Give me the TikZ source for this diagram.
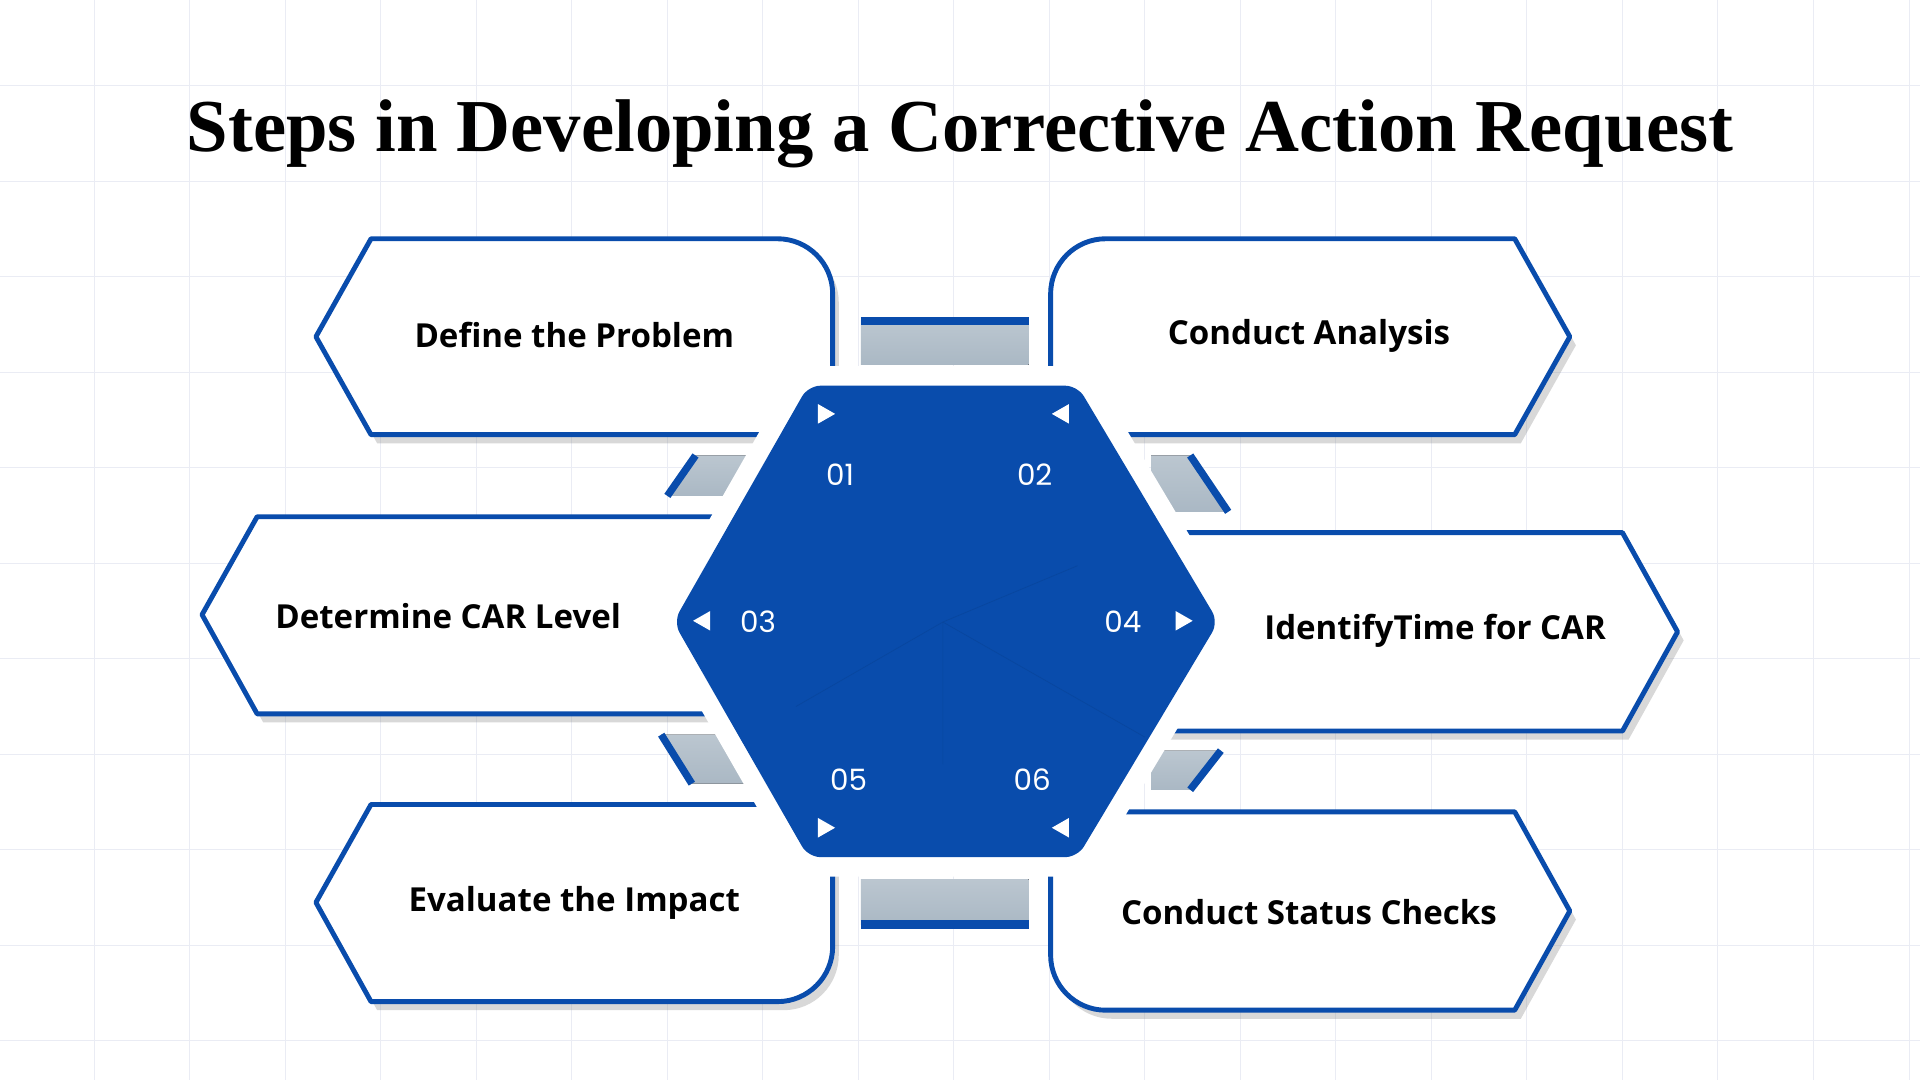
\documentclass[tikz,border=0pt]{standalone}
\usepackage{fontspec}
\setmainfont{Liberation Serif}
\newfontfamily\lblfont{Open Sans}
\newfontfamily\numfont{Poppins}
\usetikzlibrary{shadows,calc}
\definecolor{cblue}{RGB}{9,76,172}
\definecolor{bar}{RGB}{170,184,196}
\definecolor{gridc}{RGB}{234,236,244}
\tikzset{
 box/.style={draw=cblue,line width=4pt,fill=white,line join=round,drop shadow={opacity=0.3,shadow xshift=5pt,shadow yshift=-7pt}},
 lbl/.style={font=\lblfont\bfseries\fontsize{27}{31}\selectfont,text=black},
 num/.style={font=\numfont\fontsize{24}{28}\selectfont,text=white},
 barf/.style={top color=bar!80,bottom color=bar,draw=none},
 tri/.style={fill=white,draw=none}
}
\begin{document}
\begin{tikzpicture}[x=1pt,y=1pt]
\useasboundingbox (0,0) rectangle (1568,882);
\fill[white] (0,0) rectangle (1568,882);
\foreach \i in {0,...,20} \draw[gridc,line width=0.8pt] (\i*78-1,0) -- (\i*78-1,882);
\foreach \i in {0,...,12} \draw[gridc,line width=0.8pt] (0,882-\i*78+8) -- (1568,882-\i*78+8);
\node[font=\bfseries\fontsize{61}{66}\selectfont] (title) at (784,773) {Steps in Developing a Corrective Action Request};
% connector bars
\fill[barf] (703,584) rectangle (840,620);
\draw[cblue,line width=7pt] (703,620) -- (840,620);
\fill[barf] (703,127) rectangle (840,164);
\draw[cblue,line width=7pt] (703,127) -- (840,127);
\fill[barf] (545,477) -- (568,510) -- (620,510) -- (620,477) -- cycle;
\draw[cblue,line width=6pt] (545,477) -- (568,510);
\fill[barf] (540,282) -- (620,282) -- (620,242) -- (565,242) -- cycle;
\draw[cblue,line width=6pt] (540,282) -- (565,242);
\fill[barf] (940,510) -- (972,510) -- (1003,464) -- (940,464) -- cycle;
\draw[cblue,line width=6pt] (972,510) -- (1003,464);
\fill[barf] (940,269) -- (997,269) -- (972,237) -- (940,237) -- cycle;
\draw[cblue,line width=6pt] (997,269) -- (972,237);
% boxes
\draw[box] (258,607) -- (303,687) -- (635,687) arc[start angle=90,end angle=0,radius=45] -- (680,527) -- (303,527) -- cycle;
\draw[box] (165,380) -- (210,460) -- (600,460) -- (600,299) -- (210,299) -- cycle;
\draw[box] (258,145) -- (303,225) -- (680,225) -- (680,109) arc[start angle=0,end angle=-90,radius=45] -- (303,64) -- cycle;
\draw[box] (1282,607) -- (1237,687) -- (903,687) arc[start angle=90,end angle=180,radius=45] -- (858,527) -- (1237,527) -- cycle;
\draw[box] (1370,366) -- (1325,447) -- (950,447) -- (950,285) -- (1325,285) -- cycle;
\draw[box] (1282,138) -- (1237,219) -- (858,219) -- (858,102) arc[start angle=180,end angle=270,radius=45] -- (1237,57) -- cycle;
\node[lbl] (t1) at (469,608) {Define the Problem};
\node[lbl] (t2) at (1069,608) {Conduct Analysis};
\node[lbl] (t3) at (366,379) {Determine CAR Level};
\node[lbl] (t4) at (1172,367) {IdentifyTime for CAR};
\node[lbl] (t5) at (469,145) {Evaluate the Impact};
\node[lbl] (t6) at (1069,137) {Conduct Status Checks};
% hexagon
\draw[white,fill=white,line width=32pt,line join=round,drop shadow={opacity=0.3,shadow xshift=4pt,shadow yshift=-6pt}] (660,567) -- (880,567) -- (995,374) -- (880,182) -- (660,182) -- (550,374) -- cycle;
\fill[cblue,rounded corners=10pt] (660,567) -- (880,567) -- (995,374) -- (880,182) -- (660,182) -- (550,374) -- cycle;
\coordinate (c) at (770,374);
\draw[cblue!85!black,line width=0.6pt,opacity=0.5] (c) -- (770,258) (c) -- (650,305) (c) -- (935,280) (c) -- (880,420);
\node[num] (n1) at (686,494) {01};
\node[num] (n2) at (845,494) {02};
\node[num] (n3) at (619,374) {03};
\node[num] (n4) at (917,374) {04};
\node[num] (n5) at (693,245) {05};
\node[num] (n6) at (843,245) {06};
\fill[tri] (668,552) -- (668,536) -- (682,544) -- cycle;
\fill[tri] (873,552) -- (873,536) -- (859,544) -- cycle;
\fill[tri] (580,383) -- (580,367) -- (566,375) -- cycle;
\fill[tri] (960,383) -- (960,367) -- (974,375) -- cycle;
\fill[tri] (668,214) -- (668,198) -- (682,206) -- cycle;
\fill[tri] (873,214) -- (873,198) -- (859,206) -- cycle;
\end{tikzpicture}
\end{document}
